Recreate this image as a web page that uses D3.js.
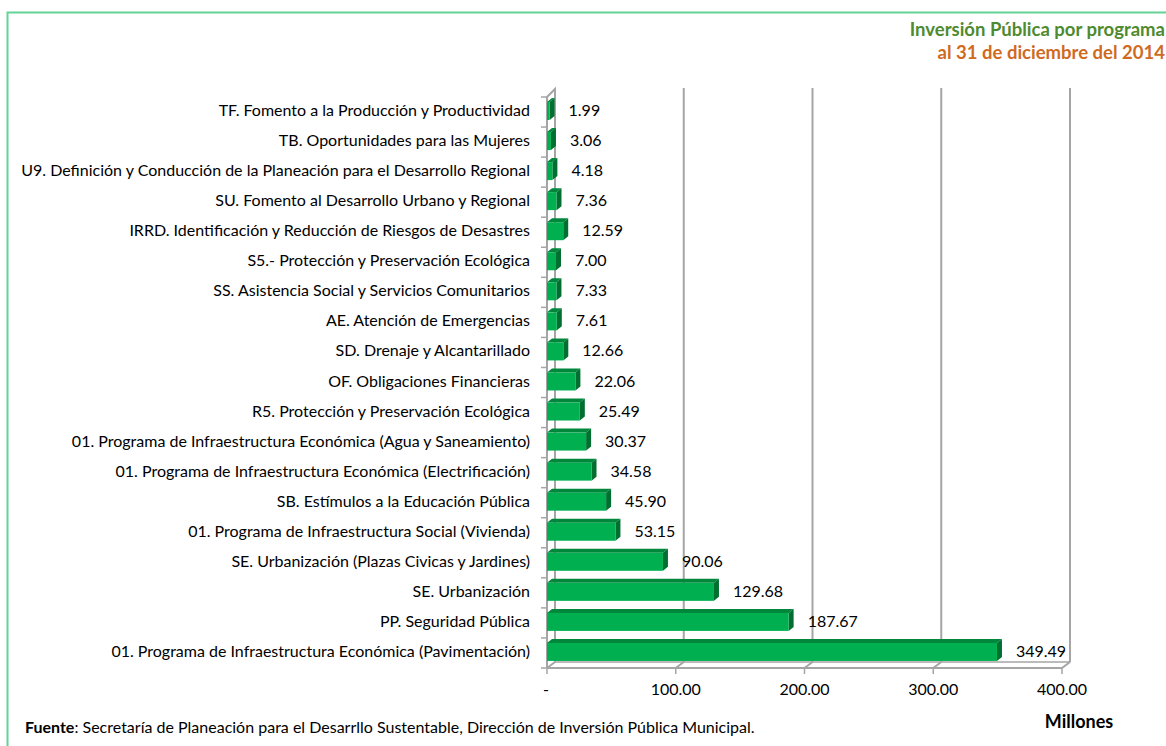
<!DOCTYPE html>
<html><head><meta charset="utf-8">
<script src="https://cdn.jsdelivr.net/npm/d3@7"></script>
<style>body{margin:0;background:#fff}svg{display:block}</style>
</head><body>
<script>
const categories = [
 "TF. Fomento a la Producción y Productividad ",
 "TB. Oportunidades para las Mujeres",
 "U9. Definición y Conducción de la Planeación para el Desarrollo Regional",
 "SU. Fomento al Desarrollo Urbano y Regional",
 "IRRD. Identificación y Reducción de Riesgos de Desastres",
 "S5.- Protección y Preservación Ecológica",
 "SS. Asistencia Social y Servicios Comunitarios",
 "AE. Atención de Emergencias",
 "SD. Drenaje y Alcantarillado",
 "OF. Obligaciones Financieras",
 "R5. Protección y Preservación Ecológica",
 "01. Programa de Infraestructura Económica (Agua y Saneamiento)",
 "01. Programa de Infraestructura Económica (Electrificación)",
 "SB. Estímulos a la Educación Pública",
 "01. Programa de Infraestructura Social (Vivienda)",
 "SE. Urbanización (Plazas Civicas y Jardines)",
 "SE. Urbanización",
 "PP. Seguridad Pública",
 "01. Programa de Infraestructura Económica (Pavimentación)"
];
const values = [1.99,3.06,4.18,7.36,12.59,7.00,7.33,7.61,12.66,22.06,25.49,30.37,34.58,45.90,53.15,90.06,129.68,187.67,349.49];
const xTicks = [0,100,200,300,400];
const titleLines = ["Inversión Pública por programa","al 31 de diciembre del 2014"];
const axisTitle = "Millones";
const sourceBold = "Fuente";
const sourceText = ": Secretaría de Planeación para el Desarrllo Sustentable, Dirección de Inversión Pública Municipal.";

const W=1166,H=746;
const svg=d3.select("body").append("svg").attr("width",W).attr("height",H);
const font="Lato, 'Open Sans', sans-serif";

// border
svg.append("path").attr("d",`M7.5,${H} V12.5 H${W}`).attr("fill","none").attr("stroke","#63d496").attr("stroke-width",2);

const x=d3.scaleLinear().domain([0,400]).range([547,1062]);
const y=d3.scaleBand().domain(categories).range([97,668]);
const dx=8, dy=-6; // wall depth
const gray="#a5a5a5";
const gridTop=88;

// back gridlines
svg.selectAll(".grid").data(xTicks.slice(1)).join("line")
 .attr("x1",d=>x(d)+dx).attr("x2",d=>x(d)+dx).attr("y1",gridTop).attr("y2",668+dy)
 .attr("stroke",gray).attr("stroke-width",2);
// floor diagonals
svg.selectAll(".fd").data(xTicks).join("line")
 .attr("x1",d=>x(d)).attr("x2",d=>x(d)+dx).attr("y1",668).attr("y2",668+dy)
 .attr("stroke",gray).attr("stroke-width",2);
// floor front & back
svg.append("line").attr("x1",x(0)).attr("x2",x(400)).attr("y1",668).attr("y2",668).attr("stroke",gray).attr("stroke-width",2);
svg.append("line").attr("x1",x(0)+dx).attr("x2",x(400)+dx).attr("y1",668+dy).attr("y2",668+dy).attr("stroke",gray).attr("stroke-width",1.5);
// tick marks down
svg.selectAll(".tk").data(xTicks).join("line")
 .attr("x1",d=>x(d)).attr("x2",d=>x(d)).attr("y1",668).attr("y2",674)
 .attr("stroke",gray).attr("stroke-width",1.5);
// left wall
svg.append("path").attr("d",`M${x(0)},668 V${97} L${x(0)+dx},${97+dy-2} V${668+dy}`)
 .attr("fill","none").attr("stroke",gray).attr("stroke-width",2);
// left ticks
const bounds=categories.map(c=>y(c)).concat([668]);
svg.selectAll(".lt").data(bounds).join("line")
 .attr("x1",x(0)-6).attr("x2",x(0)).attr("y1",d=>d).attr("y2",d=>d)
 .attr("stroke",gray).attr("stroke-width",1.5);

// bars
const bdx=5,bdy=-4,bOff=5,bH=18;
const g=svg.append("g");
categories.forEach((c,i)=>{
  const v=values[i];
  const x0=x(0), x1=x(v), yt=y(c)+bOff, yb=yt+bH;
  g.append("path").attr("d",`M${x0},${yt} L${x0+bdx},${yt+bdy} L${x1+bdx},${yt+bdy} L${x1},${yt} Z`).attr("fill","#00873b");
  g.append("path").attr("d",`M${x1},${yt} L${x1+bdx},${yt+bdy} L${x1+bdx},${yb+bdy} L${x1},${yb} Z`).attr("fill","#006f2f");
  g.append("rect").attr("x",x0).attr("y",yt).attr("width",x1-x0).attr("height",bH).attr("fill","#00b050");
});

// value labels
svg.selectAll(".vl").data(values).join("text")
 .attr("x",d=>x(d)+19).attr("y",(d,i)=>y(categories[i])+y.bandwidth()/2)
 .attr("dominant-baseline","middle").attr("font-family",font).attr("font-size",16).attr("fill","#000")
 .text(d=>d3.format(".2f")(d));

// category labels
svg.selectAll(".cl").data(categories).join("text")
 .attr("x",530).attr("y",d=>y(d)+y.bandwidth()/2)
 .attr("text-anchor","end").attr("dominant-baseline","middle")
 .attr("font-family",font).attr("font-size",16).attr("fill","#000").text(d=>d);

// x tick labels
svg.selectAll(".xl").data(xTicks).join("text")
 .attr("x",d=>x(d)+(d===0?-1:0)).attr("y",691).attr("text-anchor","middle").attr("dominant-baseline","middle")
 .attr("font-family",font).attr("font-size",16).text(d=>d===0?"-":d3.format(".2f")(d));

// titles
svg.append("text").attr("x",1165).attr("y",31).attr("text-anchor","end").attr("dominant-baseline","middle")
 .attr("font-family",font).attr("font-weight","bold").attr("font-size",18.5).attr("fill","#4e8a2f").text(titleLines[0]);
svg.append("text").attr("x",1165).attr("y",54).attr("text-anchor","end").attr("dominant-baseline","middle")
 .attr("font-family",font).attr("font-weight","bold").attr("font-size",18.5).attr("fill","#cf6a1f").text(titleLines[1]);

svg.append("text").attr("x",1079).attr("y",723).attr("text-anchor","middle").attr("dominant-baseline","middle")
 .attr("font-family",font).attr("font-weight","bold").attr("font-size",18).text(axisTitle);

const src=svg.append("text").attr("x",25).attr("y",729).attr("dominant-baseline","middle").attr("font-family",font).attr("font-size",16);
src.append("tspan").attr("font-weight","bold").text(sourceBold);
src.append("tspan").text(sourceText);
</script>
</body></html>
